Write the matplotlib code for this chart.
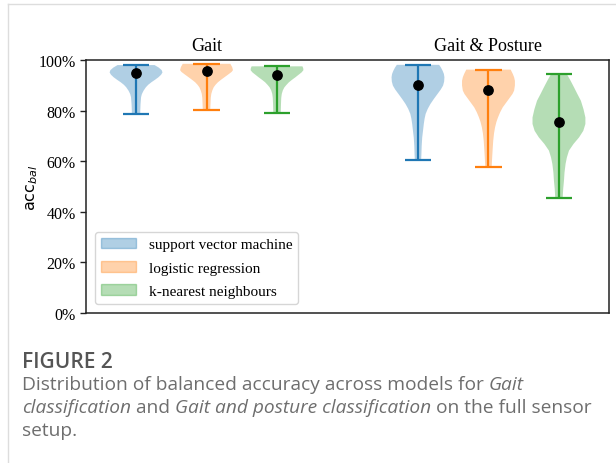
import matplotlib
matplotlib.use("Agg")
import matplotlib.pyplot as plt
from matplotlib.patches import Patch
from matplotlib.lines import Line2D
from matplotlib.ticker import PercentFormatter
import matplotlib.transforms as mtransforms

plt.rcParams['font.family'] = 'serif'
plt.rcParams['font.serif'] = ['Liberation Serif']
plt.rcParams['mathtext.fontset'] = 'dejavusans'

groups = ['Gait', 'Gait & Posture']
group_pos = [2, 6]
models = ['support vector machine', 'logistic regression', 'k-nearest neighbours']
colors = ['#1f77b4', '#ff7f0e', '#2ca02c']
positions = [[1, 5], [2, 6], [3, 7]]

# balanced accuracy (%): [Gait, Gait & Posture]
svm_max = [98.0, 98.1]
svm_min = [78.7, 60.6]
svm_mean = [95.0, 90.1]
lr_max = [98.5, 96.2]
lr_min = [80.2, 57.6]
lr_mean = [95.6, 88.1]
knn_max = [97.5, 94.6]
knn_min = [79.0, 45.3]
knn_mean = [94.2, 75.5]

# violin outlines (accuracy %, relative width)
svm_gait_y = [78.7, 80.0, 82.6, 85.3, 86.5, 87.8, 89.2, 90.2, 91.2, 92.2, 93.2, 94.2, 95.1, 96.0, 97.0, 98.0]
svm_gait_w = [0.16, 0.16, 0.17, 0.19, 0.22, 0.28, 0.37, 0.46, 0.58, 0.72, 0.85, 0.95, 1.0, 0.97, 0.86, 0.7]
svm_gp_y = [60.6, 62.8, 66.0, 69.4, 72.0, 74.7, 76.8, 78.7, 80.7, 82.6, 84.6, 86.6, 88.3, 89.9, 91.5, 93.2, 94.5, 95.8, 97.0, 98.1]
svm_gp_w = [0.12, 0.13, 0.14, 0.16, 0.19, 0.22, 0.25, 0.29, 0.37, 0.47, 0.6, 0.74, 0.86, 0.95, 0.99, 1.0, 0.98, 0.93, 0.87, 0.8]
lr_gait_y = [80.2, 82.6, 85.0, 86.6, 88.0, 89.2, 90.2, 91.2, 92.2, 93.2, 94.5, 95.3, 96.0, 97.2, 98.5]
lr_gait_w = [0.14, 0.15, 0.16, 0.18, 0.22, 0.27, 0.34, 0.43, 0.55, 0.68, 0.85, 0.95, 1.0, 0.97, 0.9]
lr_gp_y = [57.6, 61.5, 65.0, 68.1, 71.0, 73.4, 75.5, 77.3, 79.3, 81.3, 83.3, 85.3, 86.6, 87.9, 89.9, 91.8, 93.2, 94.5, 96.2]
lr_gp_w = [0.12, 0.14, 0.16, 0.18, 0.21, 0.25, 0.3, 0.36, 0.44, 0.54, 0.68, 0.82, 0.91, 0.97, 1.0, 1.0, 0.97, 0.92, 0.84]
knn_gait_y = [79.0, 82.6, 85.0, 86.6, 88.0, 89.2, 90.2, 91.2, 92.2, 93.2, 94.2, 95.1, 96.0, 96.8, 97.5]
knn_gait_w = [0.14, 0.15, 0.16, 0.18, 0.22, 0.28, 0.36, 0.45, 0.57, 0.7, 0.82, 0.93, 1.0, 0.99, 0.96]
knn_gp_y = [45.3, 49.0, 52.3, 55.5, 58.9, 61.5, 64.2, 66.8, 69.4, 72.0, 74.7, 77.3, 80.5, 83.9, 86.5, 89.2, 92.0, 94.6]
knn_gp_w = [0.14, 0.16, 0.19, 0.21, 0.25, 0.3, 0.38, 0.55, 0.76, 0.92, 1.0, 1.0, 0.93, 0.83, 0.7, 0.57, 0.43, 0.29]

stats_max = [svm_max, lr_max, knn_max]
stats_min = [svm_min, lr_min, knn_min]
stats_mean = [svm_mean, lr_mean, knn_mean]
outlines = [[(svm_gait_y, svm_gait_w), (svm_gp_y, svm_gp_w)],
            [(lr_gait_y, lr_gait_w), (lr_gp_y, lr_gp_w)],
            [(knn_gait_y, knn_gait_w), (knn_gp_y, knn_gp_w)]]

fig = plt.figure(figsize=(6.16, 4.64), dpi=100)
ax = fig.add_axes([86 / 616, 1 - 314 / 464, 523 / 616, 253 / 464])

for i, c in enumerate(colors):
    vpstats = []
    for j in range(2):
        ys, ws = outlines[i][j]
        vpstats.append({'coords': ys, 'vals': ws,
                        'mean': stats_mean[i][j], 'median': stats_mean[i][j],
                        'min': stats_min[i][j], 'max': stats_max[i][j]})
    parts = ax.violin(vpstats, positions=positions[i], widths=0.75,
                      showextrema=True)
    for body in parts['bodies']:
        body.set_facecolor(c)
        body.set_edgecolor('none')
        body.set_alpha(0.35)
    for key in ('cmaxes', 'cmins', 'cbars'):
        parts[key].set_color(c)
        parts[key].set_linewidth(1.6)
    ax.scatter(positions[i], stats_mean[i], s=45, color='black', zorder=3)

ax.set_xlim(0.29, 7.71)
ax.set_ylim(0, 100)
ax.set_xticks([])
ax.yaxis.set_major_formatter(PercentFormatter(100, decimals=0))
ax.tick_params(axis='y', labelsize=11.5, length=4, width=1, color='#222222')
for sp in ax.spines.values():
    sp.set_color('#222222')
    sp.set_linewidth(1.1)
ax.set_ylabel('$\\mathrm{acc}_{bal}$', fontsize=11.5, labelpad=-1)

trans = mtransforms.blended_transform_factory(ax.transData, ax.transAxes)
for g, p in zip(groups, group_pos):
    ax.text(p, 1.059, g, transform=trans, ha='center', va='center', fontsize=13)

handles = [Patch(facecolor=c, edgecolor=c, alpha=0.35) for c in colors]
ax.legend(handles, models, loc='lower left', fontsize=11, handlelength=2.3,
          borderaxespad=0.6, labelspacing=0.62)

# page frame
fig.add_artist(Line2D([8 / 616, 8 / 616], [0, 1 - 5 / 464], color='#dddddd',
                      lw=1, transform=fig.transFigure))
fig.add_artist(Line2D([8 / 616, 1], [1 - 5 / 464, 1 - 5 / 464], color='#dddddd',
                      lw=1, transform=fig.transFigure))

# caption
cap = dict(family=['Open Sans', 'DejaVu Sans'], fontsize=13.8, color='#6e6e6e')
fig.text(22 / 616, 1 - 363 / 464, 'FIGURE 2', va='center', fontsize=15,
         family=['Open Sans', 'DejaVu Sans'], weight='semibold', color='#555555')

lines = [[('Distribution of balanced accuracy across models for ', 'normal'),
          ('Gait', 'italic')],
         [('classification', 'italic'), (' and ', 'normal'),
          ('Gait and posture classification', 'italic'),
          (' on the full sensor', 'normal')],
         [('setup.', 'normal')]]
line_y = [385, 408, 431]
for segs, ly in zip(lines, line_y):
    prev = None
    for s, st in segs:
        if prev is None:
            prev = fig.text(22 / 616, 1 - ly / 464, s, va='center', style=st, **cap)
        else:
            prev = ax.annotate(s, xy=(1, 0), xycoords=prev, va='bottom', ha='left',
                               style=st, annotation_clip=False, **cap)

fig.savefig('out.png', dpi=100)
